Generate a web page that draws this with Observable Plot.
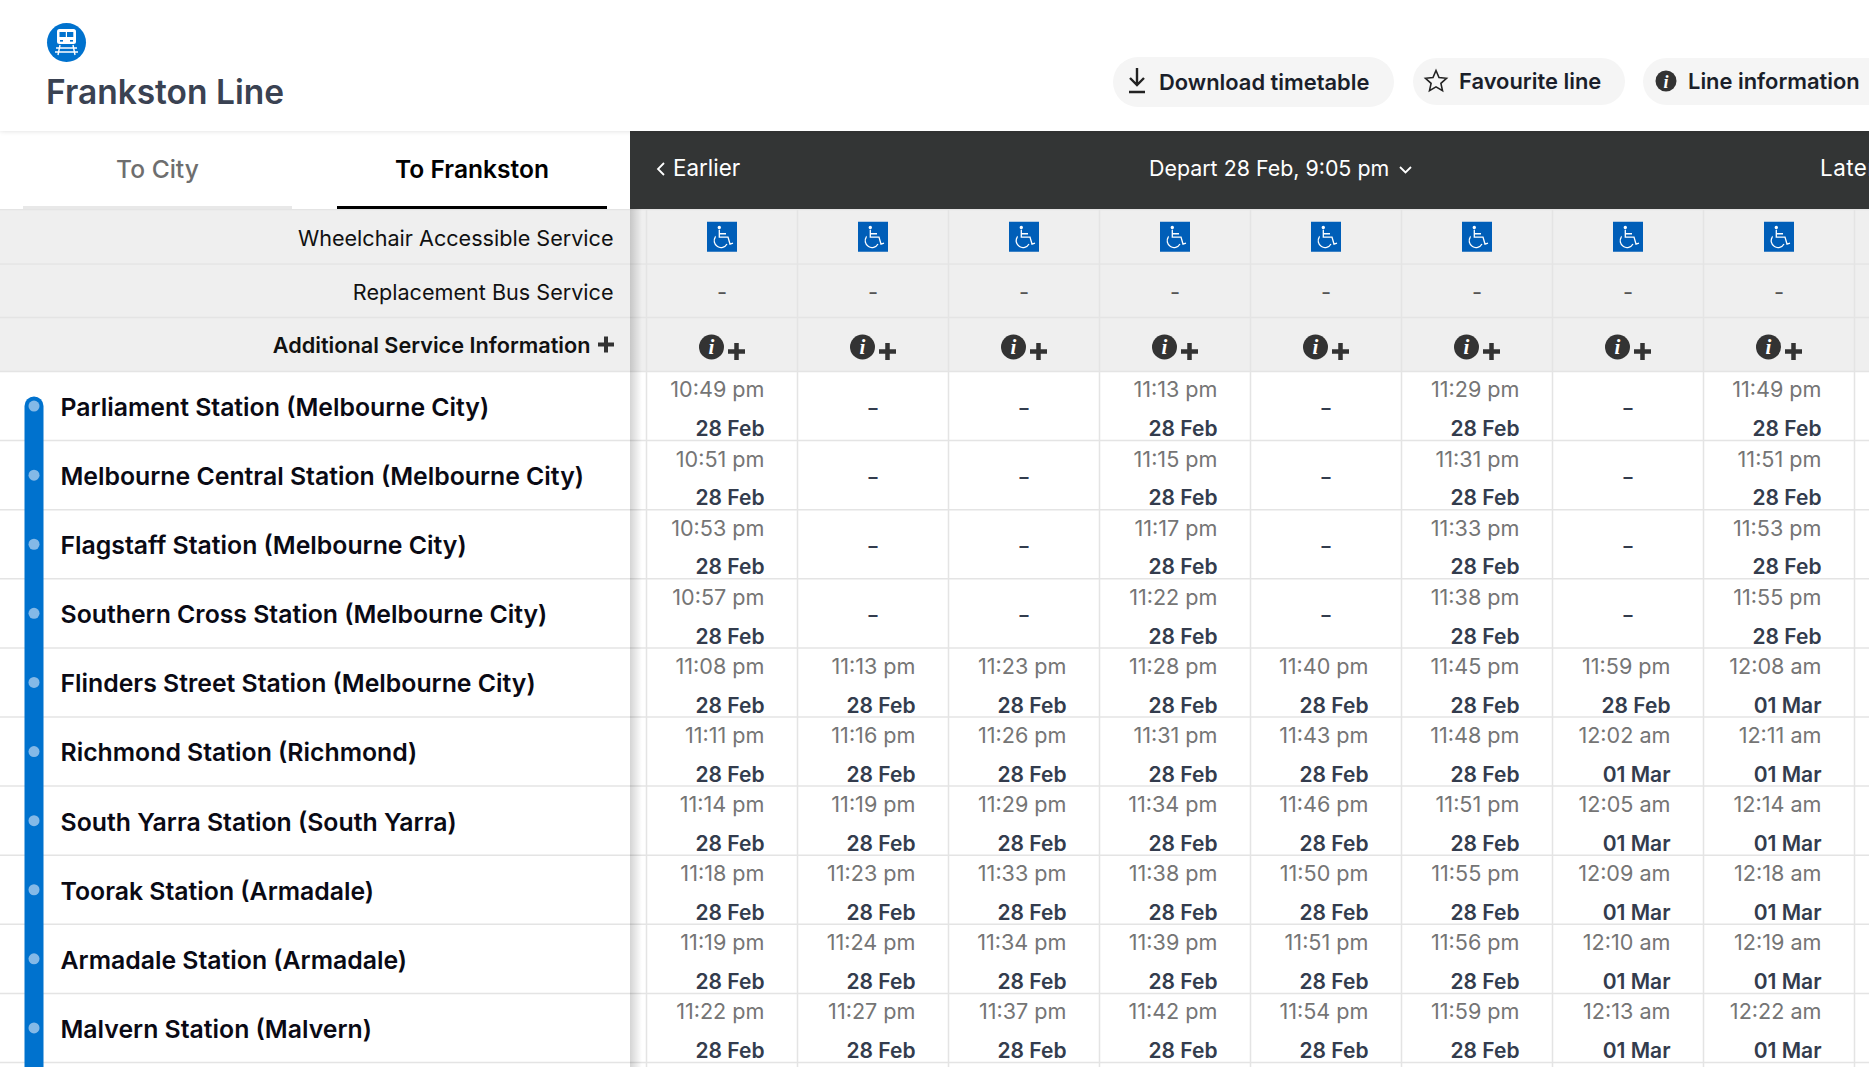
<!DOCTYPE html>
<html><head><meta charset="utf-8">
<script src="https://cdn.jsdelivr.net/npm/d3@7"></script>
<script src="https://cdn.jsdelivr.net/npm/@observablehq/plot@0.6"></script>
<style>
html,body{margin:0;padding:0;background:#fff;width:1869px;height:1067px;overflow:hidden;font-family:Inter,sans-serif}
#top{position:relative;width:1869px;height:131px;box-shadow:0 0 5px rgba(0,0,0,.14);z-index:2;background:#fff}
#title{position:absolute;left:46px;top:71px;font-size:33.5px;font-weight:600;color:#3a4252;white-space:nowrap;line-height:42px}
.pill{position:absolute;height:48px;border-radius:25px;background:#f5f5f5;color:#1b1f2a;font-size:21.9px;font-weight:600;white-space:nowrap;line-height:48px;overflow:hidden}
.pill svg{position:absolute;top:0;left:0}
.pill span{position:absolute;top:0}
#bar{position:relative;width:1869px;height:78px;overflow:hidden;background:#fff}
.tab{position:absolute;top:0;height:75px;line-height:77px;text-align:center;font-size:24.6px;white-space:nowrap}
#dark{position:absolute;left:630px;top:0;right:0;height:78px;background:#333535;color:#fff;font-size:21.4px}
#dark span{position:absolute;top:0;line-height:74px;white-space:nowrap}
#dark svg{position:absolute;top:0;left:0}
#shadow{position:absolute;left:630px;top:209px;width:12px;height:858px;background:linear-gradient(to right,rgba(0,0,0,.17),rgba(0,0,0,0))}
svg{display:block}
</style></head><body>
<div id="top">
 <svg style="position:absolute;left:46px;top:22px" width="41" height="41" viewBox="0 0 41 41">
  <circle cx="20.500" cy="20.500" r="19.500" fill="#0072ce"/>
  <rect x="11" y="7" width="19" height="15" rx="2.500" fill="#fff"/>
  <rect x="13.500" y="10" width="6.300" height="5" fill="#0072ce"/><rect x="21" y="10" width="6.300" height="5" fill="#0072ce"/>
  <rect x="14" y="18" width="3" height="1.600" fill="#0072ce"/><rect x="24" y="18" width="3" height="1.600" fill="#0072ce"/>
  <path d="M14 23l-2 10M27 23l2 10M10 26h21M9 30h23" stroke="#fff" stroke-width="1.400" fill="none"/>
 </svg>
 <div id="title">Frankston Line</div>
 <div class="pill" style="left:1113px;top:57px;width:281px;height:50px;line-height:50px">
  <svg width="60" height="50"><path d="M24 11v17M17 21l7 7 7-7M16 35h16" stroke="#222" stroke-width="2.400" fill="none"/></svg>
  <span style="left:46px">Download timetable</span></div>
 <div class="pill" style="left:1413px;top:58px;width:212px;height:47px;line-height:47px">
  <svg width="50" height="47"><path d="M23 12.500l3 7 7.500.8-5.600 5 1.600 7.400-6.500-3.800-6.500 3.800 1.600-7.400-5.600-5 7.500-.8z" stroke="#222" stroke-width="1.600" fill="none"/></svg>
  <span style="left:46px">Favourite line</span></div>
 <div class="pill" style="left:1643px;top:58px;width:260px;height:47px;line-height:47px">
  <svg width="50" height="47"><circle cx="23" cy="23" r="10.500" fill="#333"/><text x="23" y="29.500" text-anchor="middle" fill="#fff" font-family="Liberation Serif" font-style="italic" font-weight="700" font-size="18">i</text></svg>
  <span style="left:45px">Line information</span></div>
</div>
<div id="bar">
 <div class="tab" style="left:23px;width:269px;color:#6e6e6e;font-weight:500;border-bottom:3px solid #e8e8e8">To City</div>
 <div class="tab" style="left:337px;width:270px;color:#000;font-weight:600;border-bottom:3px solid #000">To Frankston</div>
 <div id="dark">
  <svg width="60" height="78"><path d="M34 32l-6 6 6 6" stroke="#fff" stroke-width="1.800" fill="none"/></svg>
  <span style="left:43px;font-size:22.4px">Earlier</span>
  <span style="left:519px">Depart 28 Feb, 9:05 pm</span>
  <svg style="left:765px" width="24" height="78"><path d="M5 36l5.500 5.500 5.500-5.500" stroke="#fff" stroke-width="1.800" fill="none"/></svg>
  <span style="left:1190px;font-size:22.4px;letter-spacing:.5px">Later</span>
 </div>
</div>
<div id="chart"></div>
<div id="shadow"></div>
<script>
const stations = ["Parliament Station (Melbourne City)","Melbourne Central Station (Melbourne City)","Flagstaff Station (Melbourne City)","Southern Cross Station (Melbourne City)","Flinders Street Station (Melbourne City)","Richmond Station (Richmond)","South Yarra Station (South Yarra)","Toorak Station (Armadale)","Armadale Station (Armadale)","Malvern Station (Malvern)"];
const headerRows = ["Wheelchair Accessible Service","Replacement Bus Service","Additional Service Information"];
const service1 = ["10:49 pm","10:51 pm","10:53 pm","10:57 pm","11:08 pm","11:11 pm","11:14 pm","11:18 pm","11:19 pm","11:22 pm"];
const service2 = ["-","-","-","-","11:13 pm","11:16 pm","11:19 pm","11:23 pm","11:24 pm","11:27 pm"];
const service3 = ["-","-","-","-","11:23 pm","11:26 pm","11:29 pm","11:33 pm","11:34 pm","11:37 pm"];
const service4 = ["11:13 pm","11:15 pm","11:17 pm","11:22 pm","11:28 pm","11:31 pm","11:34 pm","11:38 pm","11:39 pm","11:42 pm"];
const service5 = ["-","-","-","-","11:40 pm","11:43 pm","11:46 pm","11:50 pm","11:51 pm","11:54 pm"];
const service6 = ["11:29 pm","11:31 pm","11:33 pm","11:38 pm","11:45 pm","11:48 pm","11:51 pm","11:55 pm","11:56 pm","11:59 pm"];
const service7 = ["-","-","-","-","11:59 pm","12:02 am","12:05 am","12:09 am","12:10 am","12:13 am"];
const service8 = ["11:49 pm","11:51 pm","11:53 pm","11:55 pm","12:08 am","12:11 am","12:14 am","12:18 am","12:19 am","12:22 am"];
const services = [service1,service2,service3,service4,service5,service6,service7,service8];
const dateLate = "28 Feb", dateEarly = "01 Mar";

// Columns: 0 = side panel, 1 = hidden sliver, 2..9 = services. Rows: 0..2 = header, 3.. = stations.
const colOf = i => i + 2, headRows = headerRows.length, stationRow = i => i + headRows;
const sequence = n => d3.range(n);
const table = services.flatMap((times, s) => times.map((t, r) => ({col: colOf(s), row: stationRow(r), time: t, date: t.endsWith("pm") ? dateLate : dateEarly})));
const timed = table.filter(d => d.time !== "-"), none = table.filter(d => d.time === "-");
const colList = services.map((_, s) => ({col: colOf(s)}));
const stationList = stations.map((name, i) => ({name, row: stationRow(i)}));
const lineStops = [...stationList, {name: "", row: stationRow(stations.length)}];
const lastCol = colOf(services.length), lastRow = stationRow(stations.length) + 1;
const FONT = "Inter";

const squareSym = {draw(c){c.rect(-15,-15,30,30);}};
const chairSym = {draw(c){
  c.moveTo(-2.7,-7); c.lineTo(-2.7,0.3); c.lineTo(6,0.3); c.lineTo(8,7.3); c.lineTo(11,6.3);
  c.moveTo(-2.7,-3); c.lineTo(4,-3);
  c.moveTo(-6.6,0.2); c.arc(-1,4,6.8,3.74,0.5,true);
}};
const headSym = {draw(c){c.arc(-2.7,-9.2,1.7,0,2*Math.PI);}};
const plusSym = {draw(c){c.moveTo(-8.5,0);c.lineTo(8.5,0);c.moveTo(0,-8.5);c.lineTo(0,8.5);}};

const chart = Plot.plot({
  width: 1869, height: 858, margin: 0,
  style: {fontFamily: FONT, background: "transparent", overflow: "hidden"},
  x: {axis: null, type: "linear", domain: [0,1,2,lastCol,lastCol+1], range: [0,630,646,1854,2005]},
  y: {axis: null, type: "linear", domain: [0,1,2,3,lastRow], range: [0,54.5,108,162,162+69.1*(lastRow-3)]},
  marks: [
    // header band
    Plot.rectY(sequence(headRows), {x1: 0, x2: lastCol + 1, y1: d => d, y2: d => d + 1, fill: "#efefef"}),
    // grid
    Plot.ruleX(d3.range(2, lastCol + 1), {x: d => d, y1: 0, y2: lastRow, stroke: "#e4e4e4", strokeWidth: 1.5}),
    Plot.ruleY(d3.range(0, lastRow + 1), {y: d => d, x1: 0, x2: lastCol + 1, stroke: "#e4e4e4", strokeWidth: 1.5}),
    // line strip and stops
    Plot.line(lineStops, {x: () => 0, y: d => d.row + .5, dx: 33.5, stroke: "#0072ce", strokeWidth: 19, strokeLinecap: "round"}),
    Plot.dot(lineStops, {x: () => 0, y: d => d.row + .5, dx: 33.5, r: 5.5, fill: "#84b9e7"}),
    // header labels
    Plot.text(headerRows.slice(0,2), {x: () => 1, y: (d,i) => i + .5, dx: -17, dy: 2, text: d => d, textAnchor: "end", fontSize: 21.6, fill: "#111"}),
    Plot.text(headerRows.slice(2), {x: () => 1, y: () => 2.5, dx: -40, dy: 2, text: d => d, textAnchor: "end", fontSize: 21.7, fontWeight: 600, fill: "#111"}),
    Plot.dot(headerRows.slice(2), {x: () => 1, y: () => 2.5, dx: -24.5, symbol: {draw(c){c.moveTo(-8,0);c.lineTo(8,0);c.moveTo(0,-8);c.lineTo(0,8);}}, stroke: "#333", strokeWidth: 4}),
    // station labels
    Plot.text(stationList, {x: () => 0, y: d => d.row + .5, dx: 60, dy: 2, text: "name", textAnchor: "start", fontSize: 24.8, fontWeight: 600, fill: "#0a0a14"}),
    // service header symbols
    Plot.dot(colList, {x: d => d.col + .5, y: () => .5, symbol: squareSym, fill: "#005eb8", stroke: "none"}),
    Plot.dot(colList, {x: d => d.col + .5, y: () => .5, symbol: chairSym, stroke: "#fff", strokeWidth: 1.3, fill: "none"}),
    Plot.dot(colList, {x: d => d.col + .5, y: () => .5, symbol: headSym, fill: "#fff", stroke: "none"}),
    Plot.text(colList, {x: d => d.col + .5, y: () => 1.5, text: () => "-", fontSize: 22, dy: 2, fill: "#555"}),
    Plot.dot(colList, {x: d => d.col + .5, y: () => 2.5, dx: -10.5, dy: 2.5, r: 12.5, fill: "#333", stroke: "none"}),
    Plot.text(colList, {x: d => d.col + .5, y: () => 2.5, dx: -10.5, dy: 2.5, text: () => "i", fill: "#fff", fontFamily: "Liberation Serif", fontStyle: "italic", fontWeight: 700, fontSize: 21}),
    Plot.dot(colList, {x: d => d.col + .5, y: () => 2.5, dx: 14.5, dy: 7, symbol: plusSym, stroke: "#333", strokeWidth: 4.5}),
    // timetable cells
    Plot.text(timed, {x: d => d.col + 1, y: d => d.row + .5, dx: -33, dy: -15.5, text: "time", textAnchor: "end", fontSize: 21.6, fill: "#757575"}),
    Plot.text(timed, {x: d => d.col + 1, y: d => d.row + .5, dx: -33, dy: 23.5, text: "date", textAnchor: "end", fontSize: 21, fontWeight: 600, fill: "#333c4d"}),
    Plot.text(none, {x: d => d.col + .5, y: d => d.row + .5, dy: 2, text: () => "–", fontSize: 18, fontWeight: 700, fill: "#333c4d"})
  ]
});
document.getElementById("chart").appendChild(chart);
</script>
</body></html>
